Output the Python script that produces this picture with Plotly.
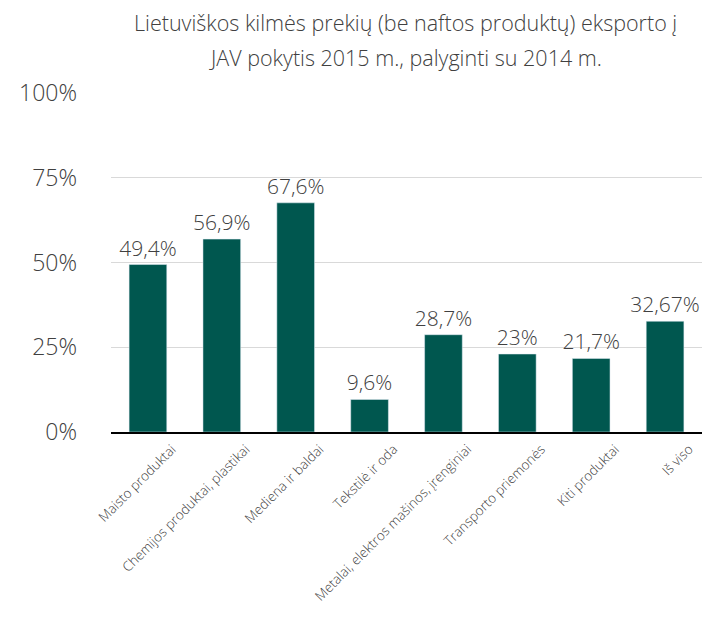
import plotly.graph_objects as go

categories = ["Maisto produktai", "Chemijos produktai, plastikai", "Mediena ir baldai",
              "Tekstilė ir oda", "Metalai, elektros mašinos, įrenginiai",
              "Transporto priemonės", "Kiti produktai", "Iš viso"]
values = [49.4, 56.9, 67.6, 9.6, 28.7, 23, 21.7, 32.67]
labels = ["49,4%", "56,9%", "67,6%", "9,6%", "28,7%", "23%", "21,7%", "32,67%"]
y_ticks = [0, 25, 50, 75, 100]
y_tick_text = ["0%", "25%", "50%", "75%", "100%"]
title_lines = ["Lietuviškos kilmės prekių (be naftos produktų) eksporto į",
               "JAV pokytis 2015 m., palyginti su 2014 m."]

FONT = "Open Sans"
COL = "#404040"
fig = go.Figure(go.Bar(
    x=categories, y=values, text=labels, textposition="outside",
    marker_color="#00574F", cliponaxis=False, constraintext="none",
    textfont=dict(family=FONT, size=21, color=COL, weight=300),
))
fig.update_layout(
    width=703, height=618,
    margin=dict(l=111, r=1, t=93, b=186, autoexpand=False),
    plot_bgcolor="white", paper_bgcolor="white",
    bargap=0.49, showlegend=False,
    font=dict(family=FONT, color=COL, weight=300),
    uniformtext=dict(mode=False),
)
for line, ypx in zip(title_lines, [22, 58]):
    fig.add_annotation(text=line, xref="paper", yref="paper",
                       x=(405 - 111) / 591, y=(432 - ypx) / 339,
                       xanchor="center", yanchor="middle", showarrow=False,
                       font=dict(family=FONT, size=21.5, color=COL, weight=300))
fig.update_yaxes(range=[0, 100], tickvals=y_ticks, ticktext=y_tick_text,
                 showgrid=True, gridcolor="#d9d9d9", gridwidth=1,
                 zeroline=False, showline=False, ticks="", automargin=False,
                 ticklabelstandoff=33,
                 tickfont=dict(family=FONT, size=23, color=COL, weight=300))
fig.update_xaxes(tickangle=-45, showline=True, linecolor="black", linewidth=2,
                 ticks="", automargin=False, ticklabelshift=24, ticklabelstandoff=2,
                 tickfont=dict(family=FONT, size=13.5, color=COL, weight=300))
fig.write_html("out.html", config={"displayModeBar": False},
               post_script="document.body.style.margin='0';document.documentElement.style.overflow='hidden';")
